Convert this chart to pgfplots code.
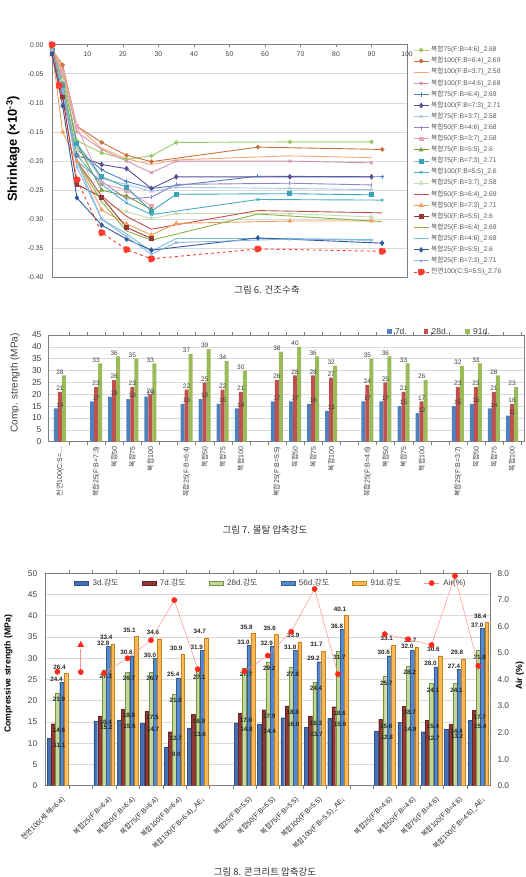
\documentclass[border=0pt]{standalone}
\usepackage{pgfplots}
\usepackage{pgfplotstable}
\pgfplotsset{compat=1.18}
\usepackage{fontspec}
\setmainfont{Liberation Sans}
\newfontfamily\kr{Noto Sans CJK KR}
\newcommand{\bh}{{\kr 복합}}
\newcommand{\cy}{{\kr 천연}}
\newcommand{\kd}{{\kr 강도}}

% shrinkage series colours
\definecolor{s01}{HTML}{9DC86A}
\definecolor{s02}{HTML}{C8733C}
\definecolor{s03}{HTML}{F7A77E}
\definecolor{s04}{HTML}{D393AC}
\definecolor{s05}{HTML}{4F81BD}
\definecolor{s06}{HTML}{5B4E96}
\definecolor{s07}{HTML}{A7C4E5}
\definecolor{s08}{HTML}{8E86C4}
\definecolor{s09}{HTML}{E7A5B8}
\definecolor{s10}{HTML}{7E9B3A}
\definecolor{s11}{HTML}{3BA3B8}
\definecolor{s12}{HTML}{4BACC6}
\definecolor{s13}{HTML}{C5DDB0}
\definecolor{s14}{HTML}{C0504D}
\definecolor{s15}{HTML}{F39C5A}
\definecolor{s16}{HTML}{953735}
\definecolor{s17}{HTML}{8CB04A}
\definecolor{s18}{HTML}{74C2D4}
\definecolor{s19}{HTML}{2E5C9A}
\definecolor{s20}{HTML}{8DB3E2}
\definecolor{s21}{HTML}{FF3B30}
% bar colours
\definecolor{mblue}{HTML}{4F81BD}
\definecolor{mred}{HTML}{C0504D}
\definecolor{mgreen}{HTML}{9BBB59}
\definecolor{c3d}{HTML}{4471B5}\definecolor{c3dd}{HTML}{2F5388}
\definecolor{c7d}{HTML}{953735}\definecolor{c7dd}{HTML}{632523}
\definecolor{c28}{HTML}{C3D69B}\definecolor{c28d}{HTML}{77933C}
\definecolor{c56}{HTML}{5389D0}\definecolor{c56d}{HTML}{385D8A}
\definecolor{c91}{HTML}{F9B95A}\definecolor{c91d}{HTML}{C8841A}
\definecolor{airdot}{HTML}{FF2A1A}
\definecolor{airline}{HTML}{FF9090}
\definecolor{gridgray}{HTML}{D9D9D9}
\definecolor{axisgray}{HTML}{808080}
\definecolor{tickgray}{HTML}{404040}
\definecolor{capgray}{HTML}{333333}

\pgfplotsset{
  linelegend/.style={legend image code/.code={\draw[mark repeat=2,mark phase=2,##1] plot coordinates {(0pt,0pt) (7.5pt,0pt) (15pt,0pt)};}},
  sqlegend/.style={legend image code/.code={\fill[##1] (0pt,-2.2pt) rectangle (4.4pt,2.2pt);}},
  barlegend/.style={legend image code/.code={\draw[##1] (0pt,-2.3pt) rectangle (14pt,2.3pt);}},
}
\tikzset{
  lab3/.style={font=\fontsize{6.3}{7}\selectfont\bfseries, text=black!85, anchor=center, inner sep=0pt},
  lab2/.style={font=\fontsize{6.5}{7}\selectfont, text=tickgray, anchor=south, inner sep=1pt},
}

% mortar strength (MPa)
\pgfplotstableread{
x  d7 d28 d91
0  14 21 28
2  17 23 33
3  19 26 36
4  18 23 35
5  19 20 33
7  16 22 37
8  18 25 39
9  16 22 34
10 14 21 30
12 17 26 38
13 17 28 40
14 16 28 36
15 13 27 32
17 17 24 35
18 17 25 36
19 15 21 33
20 12 17 26
22 15 23 32
23 16 23 33
24 14 21 28
25 11 16 23
}\mortar

% concrete strength (MPa)
\pgfplotstableread{
x  d3   d7   d28  d56  d91
0  11.1 14.6 21.9 24.4 26.4
2  15.2 16.4 27.3 32.8 33.4
3  15.5 18.0 26.7 30.6 35.1
4  14.7 17.5 26.7 30.0 34.6
5  9.0  12.7 21.6 25.4 30.9
6  13.6 16.8 27.1 31.9 34.7
8  14.8 17.0 27.7 33.0 35.8
9  14.4 17.9 29.2 32.9 35.6
10 16.0 18.8 27.8 31.8 33.9
11 13.7 16.3 24.4 29.2 31.7
12 15.9 18.6 31.7 36.8 40.1
14 12.8 15.6 25.7 30.6 33.1
15 14.9 18.7 28.2 32.0 32.7
16 12.7 15.4 24.1 28.0 30.6
17 13.2 14.4 24.1 27.4 29.8
18 15.4 17.7 31.8 37.0 38.4
}\concrete

\begin{document}
\begin{tikzpicture}
\path[use as bounding box] (0pt,0pt) rectangle (525pt,877pt);

%% ---------------- drying shrinkage ----------------
\begin{axis}[
  at={(52pt,599.5pt)}, anchor=south west, scale only axis,
  width=355pt, height=232.8pt,
  xmin=0, xmax=100, ymin=-0.4, ymax=0,
  xtick={10,20,...,100}, xtick pos=upper, xticklabel pos=upper,
  tick align=inside, major tick length=2pt,
  xticklabel style={anchor=north, yshift=-3.5pt},
  ytick={-0.4,-0.35,-0.3,-0.25,-0.2,-0.15,-0.1,-0.05,0},
  ytick style={draw=none}, xtick style={draw=axisgray},
  yticklabel style={/pgf/number format/fixed, /pgf/number format/fixed zerofill, /pgf/number format/precision=2, xshift=-5pt},
  ticklabel style={font=\fontsize{6.8}{8}\selectfont, text=tickgray},
  /pgf/number format/assume math mode=true,
  ymajorgrids, grid style={gridgray, line width=0.6pt},
  axis line style={axisgray, line width=0.8pt},
  ylabel={Shrinkage (×10\textsuperscript{-3})},
  ylabel style={font=\fontsize{13}{15}\selectfont\bfseries, at={(axis description cs:-0.11,0.552)}, anchor=center},
  clip=false,
  linelegend,
  legend cell align=left,
  legend style={at={(axis description cs:1.017,0.992)}, anchor=north west, draw=none, fill=none,
    font=\fontsize{6.8}{8}\selectfont, text=black!65, inner sep=0pt, row sep=4.6pt, column sep=2pt,
    nodes={inner sep=0pt, text height=5pt, text depth=1.5pt}},
  every axis plot/.append style={line width=0.9pt},
  every mark/.append style={solid},
]
\addplot[s01, mark=*, mark size=1.8pt] coordinates {(0,-0.005)(3,-0.05)(7,-0.165)(14,-0.186)(21,-0.197)(28,-0.191)(35,-0.168)(67,-0.167)(90,-0.167)};
\addlegendentry{\bh75(F:B=4:6)\_2.68}
\addplot[s02, mark=*, mark size=1.8pt] coordinates {(0,-0.008)(3,-0.035)(7,-0.14)(14,-0.168)(21,-0.19)(28,-0.201)(58,-0.176)(93,-0.180)};
\addlegendentry{\bh100(F:B=6:4)\_2.69}
\addplot[s03] coordinates {(0,-0.005)(3,-0.04)(7,-0.14)(14,-0.178)(21,-0.196)(28,-0.206)(35,-0.198)(67,-0.191)(90,-0.194)};
\addlegendentry{\bh100(F:B=3:7)\_2.58}
\addplot[s04, mark=x, mark size=2pt] coordinates {(0,-0.01)(3,-0.045)(7,-0.15)(14,-0.18)(21,-0.2)(28,-0.22)(35,-0.2)(67,-0.2)(90,-0.203)};
\addlegendentry{\bh100(F:B=4:6)\_2.68}
\addplot[s05, mark=+, mark size=2.2pt] coordinates {(0,-0.01)(3,-0.07)(7,-0.18)(14,-0.215)(21,-0.235)(28,-0.247)(58,-0.226)(93,-0.227)};
\addlegendentry{\bh75(F:B=6:4)\_2.69}
\addplot[s06, mark=diamond*, mark size=2.2pt] coordinates {(0,-0.016)(3,-0.09)(7,-0.19)(14,-0.206)(21,-0.213)(28,-0.247)(35,-0.227)(67,-0.227)(90,-0.227)};
\addlegendentry{\bh100(F:B=7:3)\_2.71}
\addplot[s07, mark=x, mark size=1.8pt] coordinates {(0,-0.01)(3,-0.06)(7,-0.175)(14,-0.23)(21,-0.24)(28,-0.252)(35,-0.245)(67,-0.247)(90,-0.249)};
\addlegendentry{\bh75(F:B=3:7)\_2.58}
\addplot[s08, mark=|, mark size=2pt] coordinates {(0,-0.01)(3,-0.06)(7,-0.2)(14,-0.235)(21,-0.265)(28,-0.262)(35,-0.24)(67,-0.238)(90,-0.241)};
\addlegendentry{\bh50(F:B=4:6)\_2.68}
\addplot[s09, mark=square*, mark size=1.8pt] coordinates {(0,-0.01)(3,-0.048)(7,-0.14)(14,-0.238)(21,-0.25)(28,-0.277)};
\addlegendentry{\bh50(F:B=3:7)\_2.58}
\addplot[s10, mark=triangle*, mark size=2pt] coordinates {(0,-0.01)(3,-0.06)(7,-0.17)(14,-0.25)(21,-0.26)(28,-0.283)};
\addlegendentry{\bh75(F:B=5:5)\_2.6}
\addplot[s11, mark=square*, mark size=2pt] coordinates {(0,-0.01)(3,-0.07)(7,-0.17)(14,-0.227)(21,-0.245)(28,-0.286)(35,-0.257)(67,-0.256)(90,-0.258)};
\addlegendentry{\bh75(F:B=7:3)\_2.71}
\addplot[s12, mark=x, mark size=1.8pt] coordinates {(0,-0.01)(3,-0.08)(7,-0.19)(14,-0.24)(21,-0.272)(28,-0.292)(58,-0.266)(93,-0.267)};
\addlegendentry{\bh100(F:B=5:5)\_2.6}
\addplot[s13, mark=triangle*, mark size=2pt] coordinates {(0,-0.01)(3,-0.06)(7,-0.18)(14,-0.27)(21,-0.287)(28,-0.299)(35,-0.29)(67,-0.29)(90,-0.296)};
\addlegendentry{\bh25(F:B=3:7)\_2.58}
\addplot[s14] coordinates {(0,-0.01)(3,-0.07)(7,-0.2)(14,-0.26)(21,-0.295)(28,-0.317)(58,-0.285)(93,-0.289)};
\addlegendentry{\bh50(F:B=6:4)\_2.69}
\addplot[s15, mark=triangle*, mark size=2pt] coordinates {(0,-0.01)(3,-0.15)(7,-0.2)(14,-0.284)(21,-0.308)(28,-0.327)(35,-0.307)(67,-0.303)(90,-0.303)};
\addlegendentry{\bh50(F:B=7:3)\_2.71}
\addplot[s16, mark=square*, mark size=1.8pt] coordinates {(0,-0.015)(3,-0.09)(7,-0.24)(14,-0.262)(21,-0.314)(28,-0.333)};
\addlegendentry{\bh50(F:B=5:5)\_2.6}
\addplot[s17] coordinates {(0,-0.01)(3,-0.06)(7,-0.2)(14,-0.27)(21,-0.32)(28,-0.336)(58,-0.291)(93,-0.304)};
\addlegendentry{\bh25(F:B=6:4)\_2.69}
\addplot[s18] coordinates {(0,-0.01)(3,-0.07)(7,-0.2)(14,-0.3)(21,-0.325)(28,-0.355)(35,-0.333)(67,-0.333)(90,-0.335)};
\addlegendentry{\bh25(F:B=4:6)\_2.68}
\addplot[s19, mark=diamond*, mark size=2.2pt] coordinates {(0,-0.015)(3,-0.105)(7,-0.263)(14,-0.31)(21,-0.334)(28,-0.353)(58,-0.332)(93,-0.341)};
\addlegendentry{\bh25(F:B=5:5)\_2.6}
\addplot[s20, mark=x, mark size=1.8pt] coordinates {(0,-0.01)(3,-0.08)(7,-0.21)(14,-0.3)(21,-0.33)(28,-0.36)(35,-0.34)(67,-0.334)(90,-0.336)};
\addlegendentry{\bh25(F:B=7:3)\_2.71}
\addplot[s21, dashed, mark=*, mark size=3.3pt] coordinates {(0,0)(2,-0.07)(7,-0.232)(14,-0.323)(21,-0.352)(28,-0.368)(58,-0.351)(93,-0.355)};
\addlegendentry{\cy100(C:S=5:5)\_2.76}
\end{axis}
\node[font=\fontsize{9.5}{11}\selectfont\kr, text=capgray] at (267pt,587pt) {그림 6. 건조수축};

%% ---------------- mortar compressive strength ----------------
\begin{axis}[
  at={(48pt,435.3pt)}, anchor=south west, scale only axis,
  width=476pt, height=106.7pt,
  xmin=-0.66, xmax=25.66, ymin=0, ymax=45,
  ytick={0,5,...,45},
  xtick={0,2,3,4,5,7,8,9,10,12,13,14,15,17,18,19,20,22,23,24,25},
  xticklabels={{\cy100(C:S=…},{\bh25(F:B=7:3)},{\bh50},{\bh75},{\bh100},
    {\bh25(F:B=6:4)},{\bh50},{\bh75},{\bh100},
    {\bh25(F:B=5:5)},{\bh50},{\bh75},{\bh100},
    {\bh25(F:B=4:6)},{\bh50},{\bh75},{\bh100},
    {\bh25(F:B=3:7)},{\bh50},{\bh75},{\bh100}},
  minor xtick={0.5,1.5,...,25.5},
  tick align=outside, major tick length=0pt, minor tick length=3pt,
  minor tick style={axisgray},
  xticklabel style={yshift=-1.5pt, rotate=90, anchor=east, font=\fontsize{7}{8}\selectfont},
  yticklabel style={xshift=-3pt, font=\fontsize{8.5}{10}\selectfont},
  ticklabel style={text=tickgray},
  /pgf/number format/assume math mode=true,
  ymajorgrids, grid style={gridgray, line width=0.6pt},
  axis line style={axisgray, line width=0.7pt},
  ylabel={Comp. strength (MPa)},
  ylabel style={font=\fontsize{10}{12}\selectfont, text=tickgray, at={(axis description cs:-0.069,0.55)}, anchor=center},
  legend columns=3,
  legend style={at={(axis description cs:0.712,1.031)}, anchor=west, draw=none, fill=none,
    font=\fontsize{8.5}{10}\selectfont, text=tickgray, inner sep=0pt, column sep=1.5pt,
    /tikz/every even column/.append style={column sep=15pt}},
]
\addplot[ybar, bar width=4pt, bar shift=-4pt, fill=mblue, draw=none, sqlegend,
  nodes near coords, nodes near coords style={lab2}] table[x=x,y=d7]{\mortar};
\addlegendentry{7d.}
\addplot[ybar, bar width=4pt, bar shift=0pt, fill=mred, draw=none, sqlegend,
  nodes near coords, nodes near coords style={lab2}] table[x=x,y=d28]{\mortar};
\addlegendentry{28d.}
\addplot[ybar, bar width=4pt, bar shift=4pt, fill=mgreen, draw=none, sqlegend,
  nodes near coords, nodes near coords style={lab2}] table[x=x,y=d91]{\mortar};
\addlegendentry{91d.}
\end{axis}
\node[font=\fontsize{9.5}{11}\selectfont\kr, text=capgray] at (265pt,347pt) {그림 7. 몰탈 압축강도};

%% ---------------- concrete compressive strength ----------------
\begin{axis}[
  at={(45.7pt,91.3pt)}, anchor=south west, scale only axis,
  width=444.3pt, height=212.4pt,
  xmin=-0.5, xmax=18.5, ymin=0, ymax=50,
  ytick={0,5,...,50},
  xtick={0,2,3,4,5,6,8,9,10,11,12,14,15,16,17,18},
  xticklabels={{\cy100({\kr 세}:{\kr 해}=6:4)},
    {\bh25(F:B=6:4)},{\bh50(F:B=6:4)},{\bh75(F:B=6:4)},{\bh100(F:B=6:4)},{\bh100(F:B=6:4)\_AE↓},
    {\bh25(F:B=5:5)},{\bh50(F:B=5:5)},{\bh75(F:B=5:5)},{\bh100(F:B=5:5)},{\bh100(F:B=5:5)\_AE↓},
    {\bh25(F:B=4:6)},{\bh50(F:B=4:6)},{\bh75(F:B=4:6)},{\bh100(F:B=4:6)},{\bh100(F:B=4:6)\_AE↓}},
  minor xtick={0.5,1.5,...,17.5},
  tick align=outside, major tick length=0pt, minor tick length=3pt,
  minor tick style={axisgray},
  xticklabel style={xshift=3.5pt, yshift=-5pt, rotate=45, anchor=north east, font=\fontsize{7}{8}\selectfont, text=black!85},
  yticklabel style={xshift=-5pt, font=\fontsize{8.3}{10}\selectfont, text=tickgray},
  /pgf/number format/assume math mode=true,
  ymajorgrids, grid style={gridgray, line width=0.6pt},
  axis line style={axisgray, line width=0.8pt},
  ylabel={Compressive strength (MPa)},
  ylabel style={font=\fontsize{8.7}{10}\selectfont\bfseries, at={(axis description cs:-0.084,0.526)}, anchor=center},
  nodes near coords={\pgfmathprintnumber[fixed,fixed zerofill,precision=1]{\pgfplotspointmeta}},
]
\addplot[ybar, bar width=3.8pt, bar shift=-8.4pt, fill=c3d, draw=c3dd, line width=0.3pt,
  nodes near coords style={lab3, xshift=2pt, yshift=-6.5pt}] table[x=x,y=d3]{\concrete};
\addplot[ybar, bar width=3.8pt, bar shift=-4.2pt, fill=c7d, draw=c7dd, line width=0.3pt,
  nodes near coords style={lab3, xshift=1.5pt, yshift=-6.5pt}] table[x=x,y=d7]{\concrete};
\addplot[ybar, bar width=3.8pt, bar shift=0pt, fill=c28, draw=c28d, line width=0.3pt,
  nodes near coords style={lab3, xshift=1.5pt, yshift=-6.5pt}] table[x=x,y=d28]{\concrete};
\addplot[ybar, bar width=3.8pt, bar shift=4.2pt, fill=c56, draw=c56d, line width=0.3pt,
  nodes near coords style={lab3, xshift=-1pt, yshift=3pt}] table[x=x,y=d56]{\concrete};
\addplot[ybar, bar width=3.8pt, bar shift=8.4pt, fill=c91, draw=c91d, line width=0.3pt,
  nodes near coords style={lab3, xshift=2pt, yshift=6.5pt}] table[x=x,y=d91]{\concrete};
\end{axis}

\begin{axis}[
  at={(45.7pt,91.3pt)}, anchor=south west, scale only axis,
  width=444.3pt, height=212.4pt,
  xmin=-0.5, xmax=18.5, ymin=0, ymax=8,
  hide x axis, axis y line*=right,
  ytick={0,1,...,8},
  ytick style={draw=none},
  yticklabel style={/pgf/number format/fixed, /pgf/number format/fixed zerofill, /pgf/number format/precision=1,
    xshift=4pt, font=\fontsize{8.3}{10}\selectfont, text=tickgray},
  /pgf/number format/assume math mode=true,
  axis line style={axisgray, line width=0.8pt},
  ylabel={Air (\%)},
  ylabel style={font=\fontsize{8.7}{10}\selectfont\bfseries, at={(axis description cs:1.0675,0.517)}, anchor=center},
  clip=false,
  linelegend,
  legend columns=6,
  legend style={at={(axis description cs:0.064,0.954)}, anchor=west, draw=none, fill=none,
    font=\fontsize{8}{10}\selectfont, text=tickgray, inner sep=0pt, column sep=2pt,
    /tikz/every even column/.append style={column sep=21pt}},
  airstyle/.style={airline, line width=0.5pt, mark=*, mark size=2.6pt, mark options={airdot, fill=airdot}},
]
\addlegendimage{barlegend, fill=c3d, draw=c3dd}
\addlegendentry{3d.\kd}
\addlegendimage{barlegend, fill=c7d, draw=c7dd}
\addlegendentry{7d.\kd}
\addlegendimage{barlegend, fill=c28, draw=c28d}
\addlegendentry{28d.\kd}
\addlegendimage{barlegend, fill=c56, draw=c56d}
\addlegendentry{56d.\kd}
\addlegendimage{barlegend, fill=c91, draw=c91d}
\addlegendentry{91d.\kd}
\addplot[airstyle] coordinates {(2,4.24)(3,4.80)(4,5.48)(5,6.99)(6,4.39)};
\addlegendentry{Air(\%)}
\addplot[airstyle, forget plot] coordinates {(0,4.29)};
\addplot[airstyle, forget plot] coordinates {(8,4.31)(9,4.90)(10,5.80)(11,7.41)(12,4.20)};
\addplot[airstyle, forget plot] coordinates {(14,5.71)(15,5.52)(16,5.30)(17,7.90)(18,4.51)};
% AE marker above the gap column
\addplot[airstyle, forget plot] coordinates {(1,4.28)};
\addplot[airline, line width=0.8pt, forget plot] coordinates {(1,4.28)(1,5.15)};
\addplot[only marks, mark=triangle*, mark size=3.6pt, mark options={airdot, fill=airdot}, forget plot] coordinates {(1,5.3)};
\end{axis}
\node[font=\fontsize{9.5}{11}\selectfont\kr, text=capgray] at (265pt,5pt) {그림 8. 콘크리트 압축강도};
\end{tikzpicture}
\end{document}
